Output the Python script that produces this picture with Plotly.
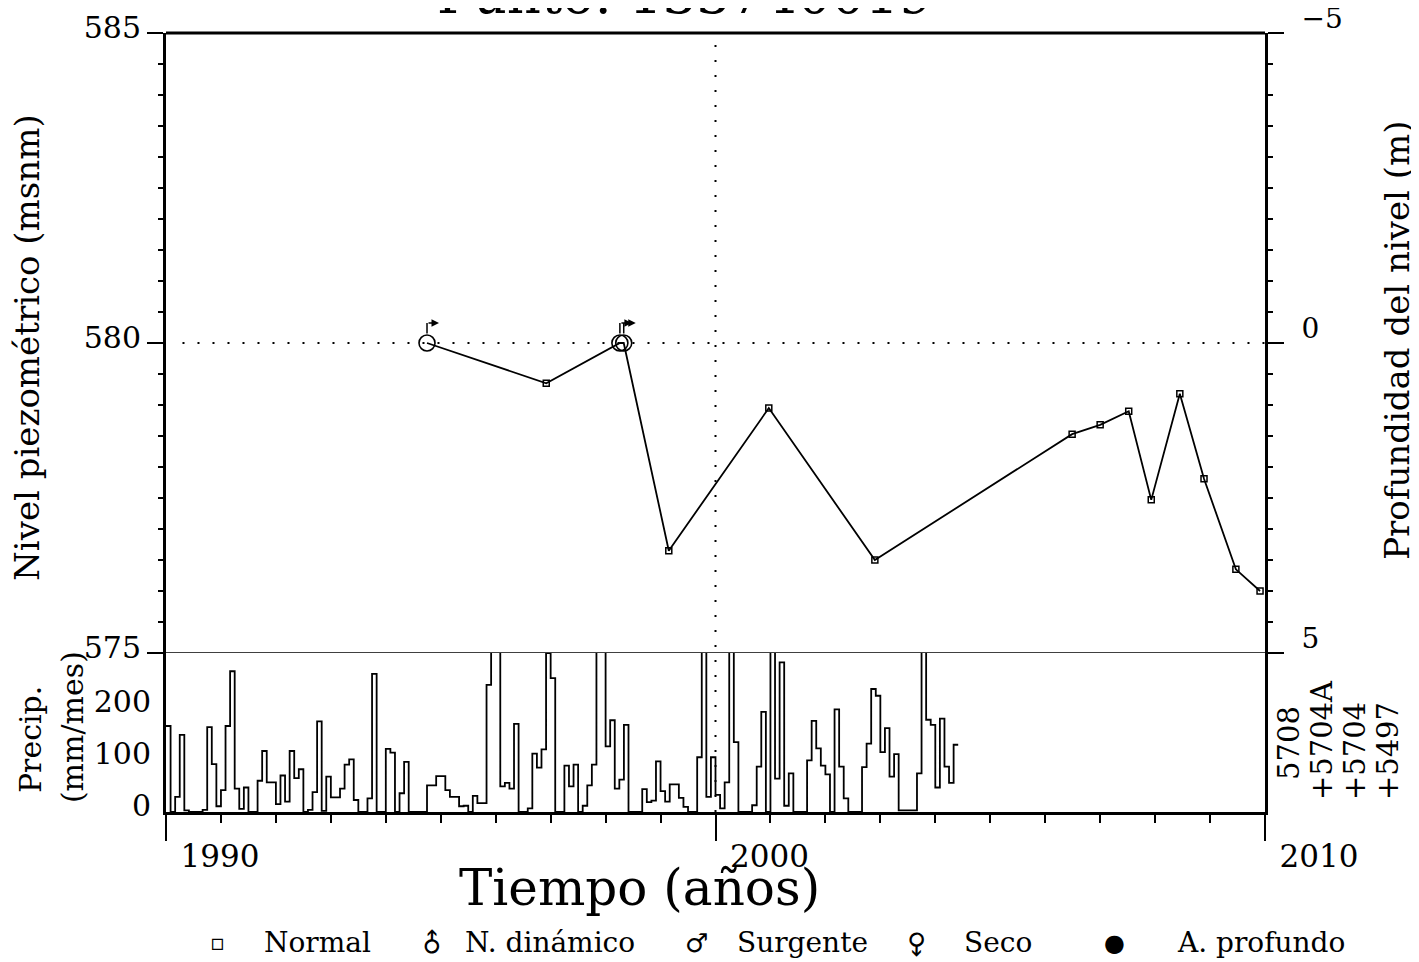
import numpy as np
import plotly.graph_objects as go

# piezometric level, normal measurements (decimal year, m a.s.l.)
normal_year = [1996.92, 1999.15, 2000.97, 2002.90, 2006.49, 2007.00, 2007.52,
               2007.93, 2008.45, 2008.89, 2009.47, 2009.91]
normal_level = [579.35, 576.65, 578.95, 576.50, 578.53, 578.68, 578.90,
                577.47, 579.18, 577.81, 576.35, 576.00]

# artesian (surgente) measurements
surgente_year = [1994.75, 1998.26, 1998.33]
surgente_level = [580.0, 580.0, 580.0]

ground_level = 580.0

# monthly precipitation from Jan 1990 (mm/mes)
precip = [165, 0, 29, 148, 3, 0, 0, 0, 4, 163, 92, 11,
          42, 165, 270, 45, 6, 47, 0, 0, 60, 117, 57, 57,
          15, 70, 20, 117, 65, 82, 0, 4, 38, 174, 2, 68,
          28, 28, 45, 91, 101, 23, 0, 0, 26, 265, 0, 0,
          121, 114, 0, 36, 96, 0, 0, 0, 0, 51, 51, 69,
          69, 42, 29, 29, 11, 12, 0, 31, 17, 17, 244, 310,
          310, 49, 56, 45, 169, 0, 0, 7, 112, 85, 120, 305,
          257, 0, 0, 89, 49, 91, 0, 12, 51, 91, 310, 310,
          126, 176, 45, 62, 167, 0, 0, 0, 44, 19, 22, 97,
          40, 20, 53, 53, 27, 10, 0, 0, 105, 310, 29, 105,
          33, 7, 57, 310, 134, 0, 0, 0, 13, 87, 192, 0,
          310, 64, 287, 12, 74, 0, 0, 0, 99, 175, 122, 89,
          72, 0, 197, 87, 26, 0, 0, 0, 86, 131, 236, 223,
          115, 161, 68, 111, 3, 3, 3, 3, 74, 310, 177, 167,
          47, 179, 87, 56, 129]

stations = [" 5708", "+5704A", "+5704", "+5497"]

FONT = "DejaVu Serif"
BLACK = "black"

# all level measurements in date order for the connecting line
all_year = np.array(normal_year + surgente_year)
all_level = np.array(normal_level + surgente_level)
order = np.argsort(all_year)

precip_x = 1990 + np.arange(len(precip) + 1) / 12.0
precip_y = precip + [precip[-1]]

fig = go.Figure()

fig.add_trace(go.Scatter(
    x=precip_x, y=precip_y, xaxis="x", yaxis="y2",
    mode="lines", line=dict(color=BLACK, width=1.8, shape="hv"),
    showlegend=False, hoverinfo="skip"))

fig.add_trace(go.Scatter(
    x=all_year[order], y=all_level[order], xaxis="x", yaxis="y",
    mode="lines", line=dict(color=BLACK, width=1.8), showlegend=False))

fig.add_trace(go.Scatter(
    x=normal_year, y=normal_level, xaxis="x", yaxis="y", mode="markers",
    marker=dict(symbol="square-open", size=6, color=BLACK, line=dict(width=1.5)),
    showlegend=False))

fig.add_trace(go.Scatter(
    x=surgente_year, y=surgente_level, xaxis="x", yaxis="y", mode="markers",
    marker=dict(symbol="circle-open", size=16, color=BLACK, line=dict(width=1.6)),
    showlegend=False))

# invisible trace so the depth axis on the right gets drawn
fig.add_trace(go.Scatter(
    x=all_year[order], y=all_level[order], xaxis="x", yaxis="y3",
    mode="markers", marker_opacity=0, showlegend=False, hoverinfo="skip"))

axis_common = dict(showgrid=False, zeroline=False, showline=True,
                   linecolor=BLACK, linewidth=3, color=BLACK,
                   tickcolor=BLACK, automargin=False)

# page body adds an 8px offset, so the figure is drawn 8px smaller
fig.update_layout(
    width=1411, height=954,
    margin=dict(l=158, r=154, t=25, b=150),
    paper_bgcolor="white", plot_bgcolor="white",
    font=dict(family=FONT, color=BLACK),
    xaxis=dict(**axis_common, domain=[0, 1], anchor="y2", range=[1990, 2010],
               tickvals=[1990, 2000, 2010], ticks="outside", ticklen=26, tickwidth=2,
               minor=dict(dtick=1, tick0=1990, ticks="outside", ticklen=8,
                          tickwidth=2, tickcolor=BLACK),
               tickfont=dict(size=31), ticklabelshift=54, ticklabelstandoff=-11),
    yaxis=dict(**axis_common, domain=[0.2041, 1], anchor="x", range=[575, 585],
               tickvals=[575, 580, 585], ticks="outside", ticklen=16, tickwidth=2,
               minor=dict(dtick=0.5, ticks="outside", ticklen=5, tickwidth=1.5,
                          tickcolor=BLACK),
               tickfont=dict(size=30), ticklabelshift=-6),
    yaxis3=dict(**axis_common, overlaying="y", side="right", anchor="x",
                range=[575, 585], tickvals=[575, 580, 585], ticktext=["5", "0", "−5"],
                ticks="outside", ticklen=16, tickwidth=2,
                minor=dict(dtick=0.5, ticks="outside", ticklen=5, tickwidth=1.5,
                           tickcolor=BLACK),
                tickfont=dict(size=28), ticklabelshift=-15, ticklabelstandoff=12,
                ticklabeloverflow="allow"),
    yaxis2=dict(**axis_common, domain=[0, 0.2041], anchor="x", range=[0, 305],
                tickvals=[0, 100, 200], ticks="", mirror=True,
                tickfont=dict(size=30), ticklabelshift=-6, ticklabelstandoff=6),
)

# frame and reference lines
fig.add_shape(type="line", xref="paper", yref="paper", x0=0, x1=1, y0=1, y1=1,
              line=dict(color=BLACK, width=3))
fig.add_shape(type="line", xref="paper", yref="y", x0=0, x1=1, y0=575, y1=575,
              line=dict(color=BLACK, width=1.5))
fig.add_shape(type="line", xref="paper", yref="y", x0=0.015, x1=1,
              y0=ground_level, y1=ground_level,
              line=dict(color=BLACK, width=2, dash="2px,13px"))
fig.add_shape(type="line", xref="x", yref="paper", x0=2000, x1=2000, y0=0, y1=1,
              line=dict(color=BLACK, width=2, dash="2px,13px"))


def label(text, x, y, size, angle=0, xanchor="center", yanchor="middle", **kw):
    return dict(text=text, x=x, y=y, xref="paper", yref="paper", textangle=angle,
                xanchor=xanchor, yanchor=yanchor, showarrow=False,
                font=dict(size=size, **kw.pop("font", {})), **kw)


ann = []
ann.append(label("Punto: 133740019", 0.472, 1, 53, yanchor="bottom", yshift=6))
ann.append(label("Tiempo (años)", 0.431, -0.0976, 50))
ann.append(label("Nivel piezométrico (msnm)", -0.1265, 0.597, 34, angle=-90))
ann.append(label("Profundidad del nivel (m)", 1.120, 0.606, 34, angle=-90))
ann.append(label("Precip.", -0.1237, 0.0924, 30, angle=-90))
ann.append(label("(mm/mes)", -0.0855, 0.109, 30, angle=-90))

for name, sx in zip(stations, [1.0218, 1.0519, 1.0819, 1.112]):
    ann.append(label(name.strip(), sx, 0.0385 if name.startswith(" ") else 0.0128,
                     29, angle=-90, yanchor="bottom"))

# flag of the artesian symbol: stem up from the circle, arrow to the right
for yr, lv in zip(surgente_year, surgente_level):
    ann.append(dict(x=yr, y=lv, xref="x", yref="y", text="", showarrow=True,
                    arrowhead=0, arrowwidth=1.5, arrowcolor=BLACK,
                    ax=0, ay=12, yshift=20))
    ann.append(dict(x=yr, y=lv, xref="x", yref="y", text="", showarrow=True,
                    arrowhead=2, arrowsize=1, arrowwidth=1.5, arrowcolor=BLACK,
                    ax=-12, ay=0, xshift=12, yshift=20))

# legend row
ly = -0.168
legend_items = [
    ("▫", 0.047, 0, 22, "Normal", 0.0874),
    ("♂", 0.242, -45, 26, "N. dinámico", 0.270),
    ("♂", 0.483, 0, 26, "Surgente", 0.518),
    ("♂", 0.683, 135, 26, "Seco", 0.724),
    ("●", 0.8635, 0, 24, "A. profundo", 0.918),
]
for sym, sx, ang, ssize, text, tx in legend_items:
    ann.append(label(sym, sx, ly, ssize, angle=ang, font=dict(family="DejaVu Sans")))
    ann.append(label(text, tx, ly, 28, xanchor="left"))

fig.update_layout(annotations=ann)

fig.write_html("out.html")
